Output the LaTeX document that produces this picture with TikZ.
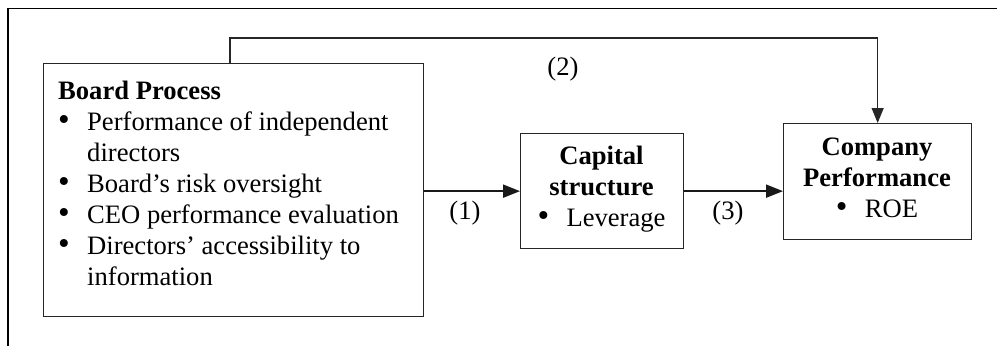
\documentclass[tikz,border=0pt]{standalone}
\usepackage{fontspec}
\usepackage{array}
\setmainfont{Liberation Serif}
\usetikzlibrary{arrows.meta}
\newcommand{\bul}{\raisebox{-0.5pt}{\scalebox{1.25}{\textbullet}}}
\begin{document}
\begin{tikzpicture}[x=1pt,y=-1pt,
  box/.style={draw=black!85, line width=1.3pt, inner sep=0pt, anchor=north west},
  txt/.style={inner sep=0pt, font=\fontsize{26.6}{31}\selectfont},
  arr/.style={draw=black!90, line width=2pt, -{Triangle[length=17pt,width=13pt]}},
  arrthin/.style={draw=black!85, line width=1.2pt, -{Triangle[length=15pt,width=12pt]}},
  frameline/.style={draw=black, line width=1.2pt}]
\useasboundingbox (0,0) rectangle (997,346);
\draw[frameline] (8,346) -- (8,8.5) -- (997,8.5);
% boxes
\node[box, minimum width=380pt, minimum height=253pt] (board) at (43,63) {};
\node[box, minimum width=163pt, minimum height=115pt] (capital) at (520,133) {};
\node[box, minimum width=188pt, minimum height=116pt] (company) at (783,123) {};
% texts
\node[txt, anchor=base west] (boardtxt) at (58,99) {\begin{tabular}[t]{@{}p{29pt}@{}>{\raggedright\arraybackslash\hyphenpenalty=10000}p{320pt}@{}}
\multicolumn{2}{@{}l}{\textbf{Board Process}}\\
\bul & Performance of independent directors\\
\bul & Board’s risk oversight\\
\bul & CEO performance evaluation\\
\bul & Directors’ accessibility to information
\end{tabular}};
\node[txt, anchor=base] (captxt) at (601.5,164) {\begin{tabular}[t]{@{}c@{}}
\textbf{Capital}\\
\textbf{structure}\\
\makebox[29pt][l]{\bul}Leverage
\end{tabular}};
\node[txt, anchor=base] (comptxt) at (877,155) {\begin{tabular}[t]{@{}c@{}}
\textbf{Company}\\
\textbf{Performance}\\
\makebox[29pt][l]{\bul}ROE
\end{tabular}};
% connectors
\coordinate (c2) at (230,38);
\draw[arr] (board.east |- capital.west) -- (capital.west);
\draw[arr] (capital.east) -- (company.west |- capital.east);
\draw[arrthin] (board.north -| c2) -- (c2) -| (company.north);
% labels
\node[txt, anchor=base] (l1) at (465,219) {(1)};
\node[txt, anchor=base] (l2) at (563,75) {(2)};
\node[txt, anchor=base] (l3) at (728,219) {(3)};
\end{tikzpicture}
\end{document}
